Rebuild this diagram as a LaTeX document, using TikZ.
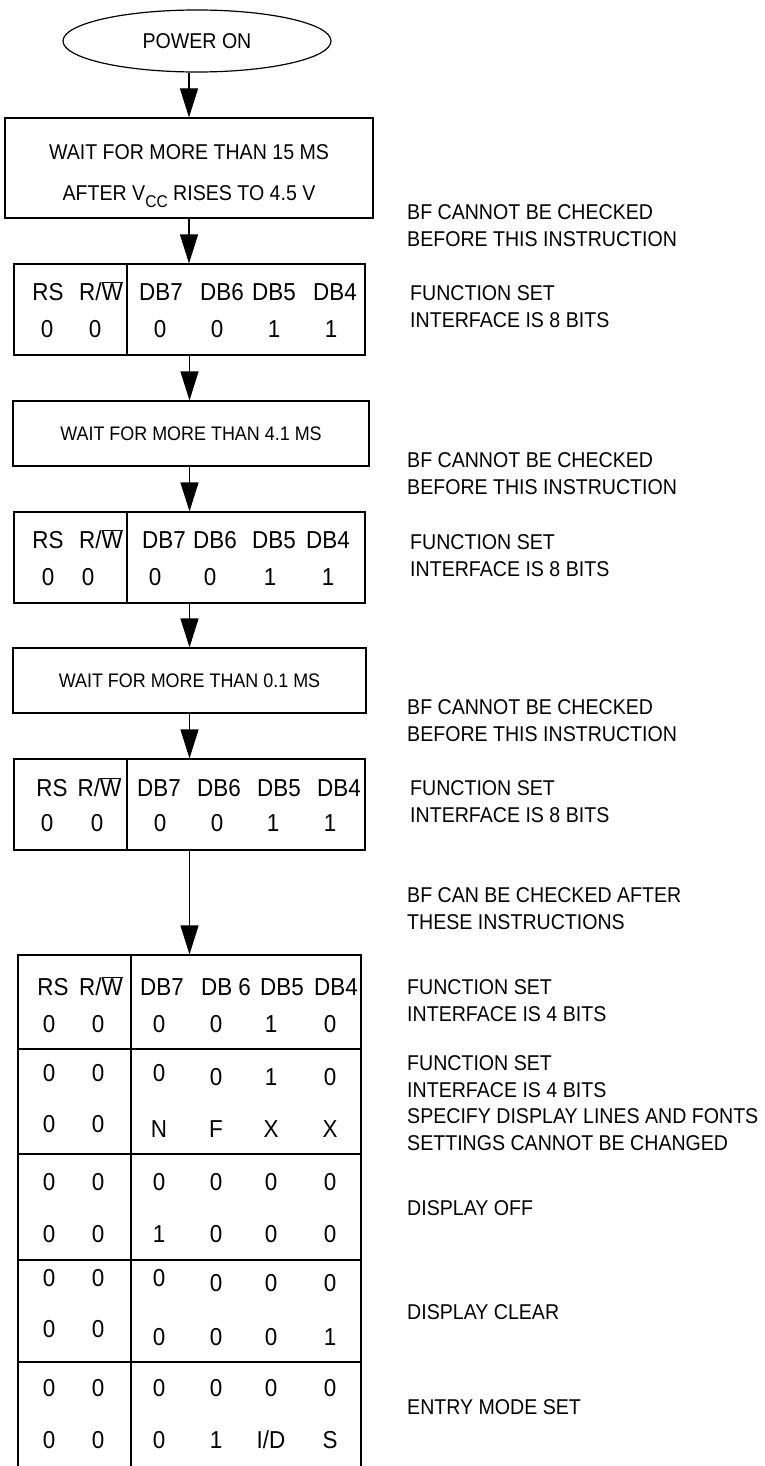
\documentclass[tikz,border=0pt]{standalone}
\usepackage{fontspec}
\setmainfont{Liberation Sans}[FakeStretch=0.915]
\usetikzlibrary{arrows.meta,shapes.geometric,calc}
\newcommand{\rbar}{R/$\overline{\hbox{W}}$}
\newcommand{\idbit}{I/D}
\newcommand{\vcc}{V\raisebox{-6.5pt}{\fontsize{17}{17}\selectfont CC}}
\begin{document}
\begin{tikzpicture}[x=1pt,y=-1pt,
  n/.style={rectangle,draw,line width=1.2pt,inner sep=0pt},
  a/.style={-{Triangle[length=29pt,width=18pt]},line width=1.2pt},
  cell/.style={inner sep=0pt,font=\fontsize{24.5}{28}\selectfont,text height=17.5pt,text depth=0pt},
  note/.style={anchor=north west,inner sep=0pt,align=left,font=\fontsize{21.4}{26.6}\selectfont}
]
\useasboundingbox (0,0) rectangle (764,1466);
% start and waits
\node[ellipse,draw,line width=1.2pt,minimum width=268pt,minimum height=62pt,inner sep=0pt,
  font=\fontsize{21.4}{24}\selectfont] (pwr) at (197,41) {POWER ON};
\node[n,minimum width=368pt,minimum height=100pt,align=center,font=\fontsize{21.4}{41}\selectfont]
  (w15) at (189,168) {\rule{0pt}{30.8pt}WAIT FOR MORE THAN 15 MS\\AFTER \vcc{} RISES TO 4.5 V};
\node[n,minimum width=356pt,minimum height=65pt,font=\fontsize{19.6}{22}\selectfont]
  (w41) at (191,433.5) {WAIT FOR MORE THAN 4.1 MS};
\node[n,minimum width=353pt,minimum height=65pt,font=\fontsize{19.6}{22}\selectfont]
  (w01) at (189.5,680.5) {WAIT FOR MORE THAN 0.1 MS};
% instruction tables
\node[n,minimum width=351pt,minimum height=91pt] (t1) at (189.5,309.5) {};
\node[n,minimum width=351pt,minimum height=91pt] (t2) at (189.5,557.5) {};
\node[n,minimum width=351pt,minimum height=91pt] (t3) at (189.5,804.5) {};
\node[n,minimum width=343pt,minimum height=535pt] (t4) at (189.5,1222.5) {};
\foreach \t in {t1,t2,t3}
  \draw[line width=1.2pt] (\t.north -| 127,0) -- (\t.south -| 127,0);
\draw[line width=1.2pt] (t4.north -| 131,0) -- (t4.south -| 131,0);
\foreach \y in {1049,1154,1260,1362}
  \draw[line width=1.2pt] (t4.west |- 0,\y) -- (t4.east |- 0,\y);
% table 1
\foreach \x/\lbl [count=\i] in {48/RS,101/\rbar,161/DB7,222/DB6,274/DB5,335/DB4}
  \node[cell] (t1h\i) at (\x,292) {\lbl};
\foreach \x/\lbl [count=\i] in {47/0,95/0,160/0,217/0,274/1,331/1}
  \node[cell] (t1v\i) at (\x,329) {\lbl};
% table 2
\foreach \x/\lbl [count=\i] in {48/RS,101/\rbar,164/DB7,215/DB6,274/DB5,328/DB4}
  \node[cell] (t2h\i) at (\x,540) {\lbl};
\foreach \x/\lbl [count=\i] in {48/0,88/0,155/0,210/0,270/1,328/1}
  \node[cell] (t2v\i) at (\x,577) {\lbl};
% table 3
\foreach \x/\lbl [count=\i] in {52/RS,99.5/\rbar,159/DB7,219/DB6,279/DB5,339/DB4}
  \node[cell] (t3h\i) at (\x,788) {\lbl};
\foreach \x/\lbl [count=\i] in {47/0,97/0,160/0,217/0,273/1,330/1}
  \node[cell] (t3v\i) at (\x,823) {\lbl};
% table 4
\foreach \x/\lbl [count=\i] in {53/RS,101/\rbar,162/DB7,226/DB 6,282/DB5,336/DB4}
  \node[cell] (t4h\i) at (\x,987) {\lbl};
\foreach \ya/\yb/\yc/\va/\vb/\vc/\vd/\ve/\vf [count=\r] in {
    1024/1024/1024/0/0/0/0/1/0,
    1073/1073/1077/0/0/0/0/1/0,
    1124/1129/1129/0/0/N/F/X/X,
    1182/1182/1182/0/0/0/0/0/0,
    1234/1234/1234/0/0/1/0/0/0,
    1278/1278/1283/0/0/0/0/0/0,
    1329/1337/1337/0/0/0/0/0/1,
    1388/1388/1388/0/0/0/0/0/0,
    1440/1440/1440/0/0/0/1/\idbit/S}{
  \node[cell] (r\r a) at (49,\ya) {\va};
  \node[cell] (r\r b) at (98,\ya) {\vb};
  \node[cell] (r\r c) at (159,\yb) {\vc};
  \node[cell] (r\r d) at (216,\yc) {\vd};
  \node[cell] (r\r e) at (271,\yc) {\ve};
  \node[cell] (r\r f) at (330,\yc) {\vf};
}
% arrows
\draw[a] (w15.north |- pwr.south) -- (w15.north);
\draw[a] (w15.south) -- (w15.south |- t1.north);
\draw[a] (t1.south) -- (t1.south |- w41.north);
\draw[a] (t1.south |- w41.south) -- (t2.north);
\draw[a] (t2.south) -- (t2.south |- w01.north);
\draw[a] (t2.south |- w01.south) -- (t3.north);
\draw[a] (t3.south) -- (t4.north);
% notes
\node[note] (n1) at (407,204.3) {BF CANNOT BE CHECKED\\BEFORE THIS INSTRUCTION};
\node[note] (n2) at (410,285.3) {FUNCTION SET\\INTERFACE IS 8 BITS};
\node[note] (n3) at (407,452.3) {BF CANNOT BE CHECKED\\BEFORE THIS INSTRUCTION};
\node[note] (n4) at (410,534.3) {FUNCTION SET\\INTERFACE IS 8 BITS};
\node[note] (n5) at (407,699.3) {BF CANNOT BE CHECKED\\BEFORE THIS INSTRUCTION};
\node[note] (n6) at (410,780.3) {FUNCTION SET\\INTERFACE IS 8 BITS};
\node[note] (n7) at (407,887.3) {BF CAN BE CHECKED AFTER\\THESE INSTRUCTIONS};
\node[note] (n8) at (407,979.3) {FUNCTION SET\\INTERFACE IS 4 BITS};
\node[note] (n9) at (407,1055.3) {FUNCTION SET\\INTERFACE IS 4 BITS\\SPECIFY DISPLAY LINES AND FONTS\\SETTINGS CANNOT BE CHANGED};
\node[note] (n10) at (407,1200.3) {DISPLAY OFF};
\node[note] (n11) at (407,1304.3) {DISPLAY CLEAR};
\node[note] (n12) at (407,1399.3) {ENTRY MODE SET};
\end{tikzpicture}
\end{document}
